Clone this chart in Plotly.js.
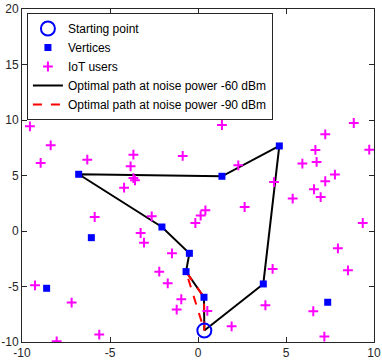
<!DOCTYPE html>
<html>
<head>
<meta charset="utf-8">
<script src="https://cdn.plot.ly/plotly-3.0.1.min.js"></script>
<style>html,body{margin:0;padding:0;background:#fff;}#chart{width:382px;height:362px;}</style>
</head>
<body>
<div id="chart"></div>
<script>
// Data
const startX = [0.36];
const startY = [-8.97];
const vertexX = [0.34, -0.68, -0.49, -2.05, -6.78, 1.36, 4.62, 3.71, -6.06, -8.6, 7.37];
const vertexY = [-5.97, -3.66, -2.01, 0.36, 5.11, 4.93, 7.66, -4.77, -0.6, -5.16, -6.42];
const iotX = [-9.55, -8.94, -8.37, -6.29, -3.67, -3.83, -3.67, -3.58, -4.2, -5.87, -2.63, -0.87, -0.15, 0.15, 0.42,
  -3.26, -3.07, 1.36, 2.29, 4.32, 2.65, 5.38, 5.93, 6.67, 7.23, 6.74, 8.85, 9.73, 7.78, 7.23, 6.59, 6.97, 9.36,
  -9.26, -7.18, -8.03, -5.61, -1.48, -2.2, -1.72, -0.95, -1.21, 0.53, 4.24, 3.83, 1.91, 6.55, 7.95, 8.52, 7.18];
const iotY = [9.43, 6.13, 7.72, 6.43, 6.88, 5.83, 4.77, 4.57, 3.9, 1.26, 1.32, 6.76, 0.72, 1.39, 1.86,
  -0.18, -1.05, 9.55, 5.92, 4.41, 2.16, 2.92, 6.07, 7.3, 8.71, 6.22, 9.73, 7.33, 5.08, 4.48, 3.76, 3.06, 0.72,
  -4.89, -6.45, -9.94, -9.33, -2.01, -3.66, -4.71, -6.15, -7.08, -7.2, -3.42, -6.69, -8.59, -7.23, -1.56, -3.54, -9.51];
const path60X = [0.36, 0.34, -0.68, -0.49, -2.05, -6.78, 1.36, 4.62, 3.71, 0.36];
const path60Y = [-8.97, -5.97, -3.66, -2.01, 0.36, 5.11, 4.93, 7.66, -4.77, -8.97];
const path90X = [0.36, 0.34, -0.68, 0.36];
const path90Y = [-8.97, -5.97, -3.66, -8.97];
const xTicks = [-10, -5, 0, 5, 10];
const yTicks = [-10, -5, 0, 5, 10, 15, 20];

const traces = [
  {x: path60X, y: path60Y, mode: 'lines', name: 'Optimal path at noise power -60 dBm',
   line: {color: '#000000', width: 2}, legendrank: 4},
  {x: path90X, y: path90Y, mode: 'lines', name: 'Optimal path at noise power -90 dBm',
   line: {color: '#ff0000', width: 2, dash: 'dash'}, legendrank: 5},
  {x: iotX, y: iotY, mode: 'markers', name: 'IoT users',
   marker: {symbol: 'cross-thin', size: 7, line: {color: '#ff00ff', width: 2}, color: '#ff00ff'}, legendrank: 3},
  {x: vertexX, y: vertexY, mode: 'markers', name: 'Vertices',
   marker: {symbol: 'square', size: 7, color: '#0000ff'}, legendrank: 2},
  {x: startX, y: startY, mode: 'markers', name: 'Starting point',
   marker: {symbol: 'circle-open', size: 14, line: {color: '#0000ff', width: 2}, color: '#0000ff'}, legendrank: 1}
];

const axisCommon = {
  showgrid: false, zeroline: false, showline: true, mirror: 'ticks',
  linecolor: '#262626', linewidth: 1, ticks: 'inside', ticklen: 5, tickcolor: '#262626',
  tickfont: {family: 'Liberation Sans, Arial, sans-serif', size: 12, color: '#262626'}
};

const layout = {
  width: 382, height: 362,
  margin: {l: 22, r: 8, t: 9, b: 20},
  paper_bgcolor: '#ffffff', plot_bgcolor: '#ffffff',
  showlegend: true,
  xaxis: Object.assign({}, axisCommon, {range: [-10, 10], tickvals: xTicks, ticktext: xTicks.map(String)}),
  yaxis: Object.assign({}, axisCommon, {range: [-10, 20], tickvals: yTicks, ticktext: yTicks.map(String)}),
  legend: {
    x: 0.014, y: 0.988, xanchor: 'left', yanchor: 'top',
    bgcolor: '#ffffff', bordercolor: '#262626', borderwidth: 1,
    font: {family: 'Liberation Sans, Arial, sans-serif', size: 12, color: '#000000'},
    tracegroupgap: 0, itemwidth: 30
  }
};

Plotly.newPlot('chart', traces, layout, {displayModeBar: false, staticPlot: true});
</script>
</body>
</html>
